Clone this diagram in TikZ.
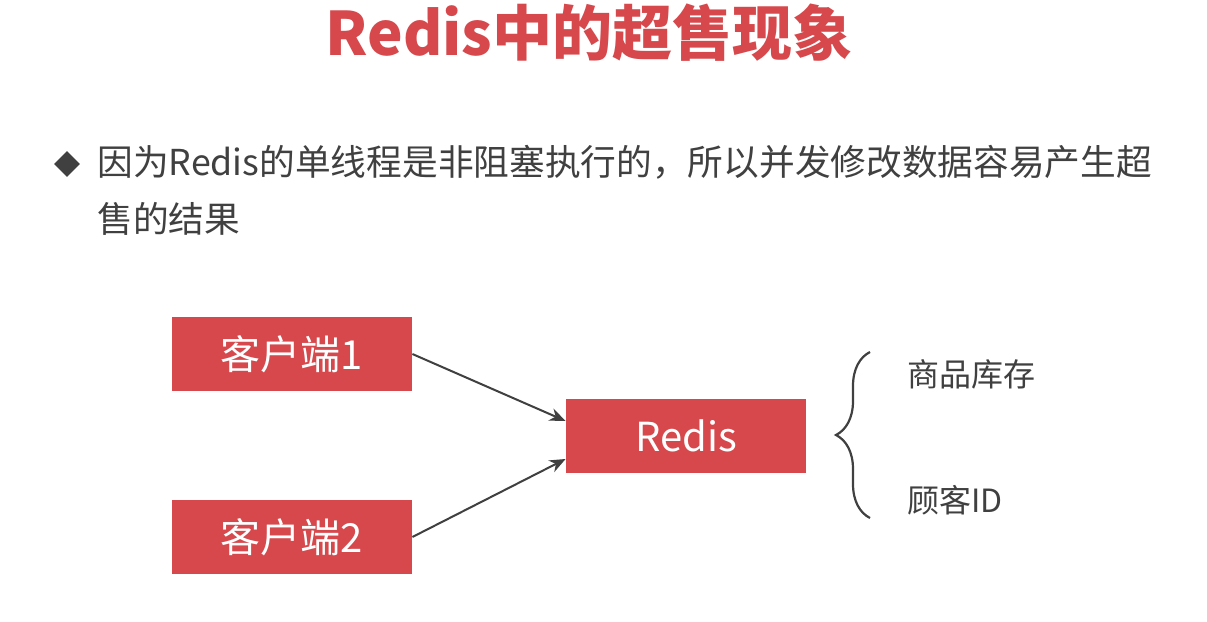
\documentclass[tikz,border=0pt]{standalone}
\usepackage{fontspec}
\setmainfont{Noto Sans CJK SC}
\usetikzlibrary{positioning,shapes.geometric,decorations.pathreplacing,arrows.meta}
\definecolor{slidered}{HTML}{D6484C}
\definecolor{textgray}{HTML}{404040}
\tikzset{
  box/.style={fill=slidered, text=white, inner sep=0pt, minimum width=120pt, minimum height=37pt, font=\fontsize{20}{20}\selectfont},
  conn/.style={-{Stealth[length=8pt,width=6.5pt]}, line width=1pt, draw=textgray},
  item/.style={text=textgray, anchor=west, inner sep=0pt, font=\fontsize{16}{16}\selectfont},
}
\begin{document}
\begin{tikzpicture}[x=0.5pt,y=-0.5pt]
        \useasboundingbox[fill=white] (0,0) rectangle (1207,622);
        %% title
        \node[text=slidered, font=\fontsize{30}{30}\selectfont\bfseries] (title) at (589,33) {Redis中的超售现象};
        %% bullet point
        \node[diamond, fill=textgray, inner sep=0pt, minimum size=13pt] (bullet) at (67,164) {};
        \node[anchor=north west, align=left, inner sep=0pt, text=textgray, font=\fontsize{17.85}{28.5}\selectfont] (intro) at (97,145)
            {因为Redis的单线程是非阻塞执行的，所以并发修改数据容易产生超\\售的结果};
        %% clients and server
        \node[box] (client1) at (292,354) {客户端1};
        \node[box] (client2) at (292,537) {客户端2};
        \node[box] (redis) at (686,436) {Redis};
        \draw[conn] (client1.east) -- ([yshift=7.5pt]redis.west);
        \draw[conn] (client2.east) -- ([yshift=-11.5pt]redis.west);
        %% stored data
        \node[item] (stock) at (907,374) {商品库存};
        \node[item] (buyer) at (907,500) {顾客ID};
        \draw[textgray, line width=1.1pt, decorate, decoration={brace, amplitude=17pt}] (870,518) -- (870,352);
\end{tikzpicture}
\end{document}
